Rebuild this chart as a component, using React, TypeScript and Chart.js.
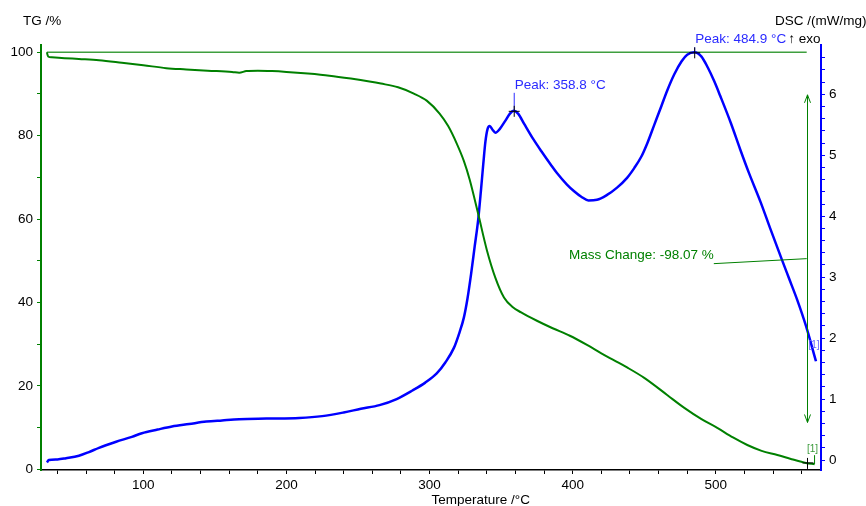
import React, { useEffect, useRef } from 'react';
import { Chart, registerables } from 'chart.js';

Chart.register(...registerables);

// ---- Data ----
const tgTemp = [32.6, 33.5, 36, 45, 55, 69, 85, 100, 116, 130, 145, 162, 167, 172, 180, 190, 200, 215, 230, 245, 258, 266, 278, 289, 298, 307, 313, 319, 324, 328, 334, 340, 346, 352, 358, 364, 375, 386, 398, 410, 420, 429, 438, 450, 466, 478, 490, 501, 512, 522, 532, 543, 553, 563, 569];
const tgMass = [100, 99.0, 98.8, 98.6, 98.4, 98.1, 97.5, 96.9, 96.2, 95.9, 95.6, 95.3, 95.1, 95.5, 95.6, 95.5, 95.3, 94.9, 94.4, 93.7, 93.0, 92.5, 91.6, 90.1, 88.4, 85.3, 82.3, 78.1, 73.9, 69.5, 61.2, 52.6, 45.9, 41.2, 38.9, 37.6, 35.6, 33.8, 32.0, 29.8, 27.8, 26.1, 24.4, 21.9, 17.8, 14.7, 12.0, 9.9, 7.6, 5.8, 4.4, 3.4, 2.4, 1.5, 1.2];

const dscTemp = [32.7, 34, 40, 46, 55, 62, 69, 81, 92, 99, 110, 120, 132, 144, 155, 167, 186, 209, 225, 240, 252, 265, 277, 288, 297, 305, 311, 317, 321, 324, 326.5, 329, 331.5, 334, 336, 337.5, 339, 340.5, 342, 344, 346, 349, 353, 356, 358.8, 362, 366, 372.6, 378, 384.6, 389, 396, 401, 406, 411, 417, 424, 431, 438, 443, 448, 452, 457, 462, 466, 471, 476, 480, 485, 490, 494.4, 499, 503, 510.5, 517, 523, 531.5, 538, 545.5, 551, 557, 563, 570];
const dscValue = [-0.04, 0.0, 0.01, 0.03, 0.07, 0.13, 0.2, 0.3, 0.38, 0.44, 0.5, 0.55, 0.59, 0.63, 0.65, 0.67, 0.68, 0.69, 0.72, 0.78, 0.84, 0.9, 1.0, 1.14, 1.27, 1.42, 1.6, 1.84, 2.1, 2.34, 2.65, 3.05, 3.5, 3.95, 4.45, 4.85, 5.22, 5.43, 5.48, 5.42, 5.37, 5.43, 5.57, 5.68, 5.73, 5.68, 5.52, 5.26, 5.07, 4.85, 4.71, 4.52, 4.41, 4.32, 4.26, 4.27, 4.35, 4.47, 4.63, 4.79, 4.98, 5.19, 5.5, 5.81, 6.06, 6.33, 6.54, 6.65, 6.69, 6.62, 6.44, 6.21, 5.98, 5.53, 5.1, 4.72, 4.22, 3.8, 3.33, 2.99, 2.62, 2.2, 1.62];

const refLineTemp = [32.6, 563.5];
const refLineMass = [100, 100];

const xMajorTicks = [100, 200, 300, 400, 500];
const xMinorTicks = [40, 60, 80, 100, 120, 140, 160, 180, 200, 220, 240, 260, 280, 300, 320, 340, 360, 380, 400, 420, 440, 460, 480, 500, 520, 540, 560];
const tgMajorTicks = [0, 20, 40, 60, 80, 100];
const tgMinorTicks = [0, 10, 20, 30, 40, 50, 60, 70, 80, 90, 100];
const dscMajorTicks = [0, 1, 2, 3, 4, 5, 6];
const dscMinorStep = 0.2;
const dscMinorMax = 6.6;

const peakTemps = [358.8, 484.9];
const peakValues = [5.73, 6.69];
const peakLabels = ['Peak: 358.8 °C', 'Peak: 484.9 °C'];

const massChangeLabel = 'Mass Change: -98.07 %';
const massChangeTemp = 563.5;
const massChangeRange = [89.8, 11.2];
const massLeaderTemp = [498.6, 563.5];
const massLeaderMass = [49.3, 50.5];

const tgTitle = 'TG /%';
const dscTitle = 'DSC /(mW/mg)';
const xTitle = 'Temperature /°C';
const exoLabel = '↑ exo';
const segLabel = '[1]';

const FONT_FAMILY = '"Liberation Sans", Arial, sans-serif';
const GREEN = '#008000';
const BLUE = '#0000ff';
const BLUE_TEXT = '#2b2bff';

const dscMinorTicks: number[] = [];
for (let i = 0; i * dscMinorStep <= dscMinorMax + 1e-9; i++) dscMinorTicks.push(Math.round(i * dscMinorStep * 10) / 10);

const annotationPlugin = {
  id: 'tgaAnnotations',
  afterDatasetsDraw(chart: any) {
    const { ctx, chartArea, scales } = chart;
    const x = scales.x, y = scales.y, y1 = scales.y1;
    ctx.save();
    ctx.font = `13.5px ${FONT_FAMILY}`;
    ctx.textBaseline = 'middle';

    // peaks
    const peakRise = [26, 13];
    peakTemps.forEach((t, i) => {
      const px = x.getPixelForValue(t);
      const py = y1.getPixelForValue(peakValues[i]);
      const rise = peakRise[i];
      ctx.strokeStyle = BLUE_TEXT;
      ctx.lineWidth = 1;
      ctx.beginPath();
      ctx.moveTo(px + 0.5, py - rise + 8);
      ctx.lineTo(px + 0.5, py);
      ctx.stroke();
      ctx.fillStyle = BLUE_TEXT;
      ctx.textAlign = 'left';
      ctx.fillText(peakLabels[i], px + 1, py - rise);
      if (i === peakTemps.length - 1) {
        const w = ctx.measureText(peakLabels[i]).width;
        ctx.fillStyle = '#000';
        ctx.fillText(exoLabel, px + 1 + w + 2, py - rise);
      }
      ctx.strokeStyle = '#000';
      ctx.beginPath();
      ctx.moveTo(px - 5, py + 0.5);
      ctx.lineTo(px + 6, py + 0.5);
      ctx.moveTo(px + 0.5, py - 5);
      ctx.lineTo(px + 0.5, py + 6);
      ctx.stroke();
    });

    // mass change arrow
    const vx = Math.round(x.getPixelForValue(massChangeTemp)) + 0.5;
    const ty = y.getPixelForValue(massChangeRange[0]);
    const by = y.getPixelForValue(massChangeRange[1]);
    ctx.strokeStyle = GREEN;
    ctx.lineWidth = 1;
    ctx.beginPath();
    ctx.moveTo(vx, ty);
    ctx.lineTo(vx, by);
    ctx.moveTo(vx - 3, ty + 8);
    ctx.lineTo(vx, ty);
    ctx.lineTo(vx + 3, ty + 8);
    ctx.moveTo(vx - 3, by - 8);
    ctx.lineTo(vx, by);
    ctx.lineTo(vx + 3, by - 8);
    ctx.stroke();
    const lx0 = x.getPixelForValue(massLeaderTemp[0]);
    const ly0 = y.getPixelForValue(massLeaderMass[0]);
    const lx1 = x.getPixelForValue(massLeaderTemp[1]);
    const ly1 = y.getPixelForValue(massLeaderMass[1]);
    ctx.beginPath();
    ctx.moveTo(lx0, ly0);
    ctx.lineTo(lx1, ly1);
    ctx.stroke();
    ctx.fillStyle = GREEN;
    ctx.textAlign = 'right';
    ctx.fillText(massChangeLabel, lx0, ly0 - 8);

    // TG end marker and segment labels
    const tgEndX = x.getPixelForValue(tgTemp[tgTemp.length - 1]);
    const tgEndY = y.getPixelForValue(tgMass[tgMass.length - 1]);
    const tgMarkX = vx;
    const tgMarkY = y.getPixelForValue(tgMass[tgMass.length - 2]);
    ctx.strokeStyle = '#000';
    ctx.beginPath();
    ctx.moveTo(tgMarkX - 5, tgMarkY);
    ctx.lineTo(tgMarkX + 6, tgMarkY);
    ctx.moveTo(tgMarkX, tgMarkY - 5);
    ctx.lineTo(tgMarkX, tgMarkY + 6);
    ctx.stroke();
    ctx.strokeStyle = GREEN;
    ctx.beginPath();
    ctx.moveTo(tgEndX, tgEndY);
    ctx.lineTo(tgEndX, tgEndY - 9);
    ctx.stroke();

    ctx.font = `10px ${FONT_FAMILY}`;
    ctx.textAlign = 'center';
    ctx.fillStyle = '#3a9a3a';
    ctx.fillText(segLabel, tgEndX - 2, tgEndY - 15);
    const dEndX = x.getPixelForValue(dscTemp[dscTemp.length - 1]);
    const dEndY = y1.getPixelForValue(dscValue[dscValue.length - 1]);
    ctx.fillStyle = '#6060ff';
    ctx.fillText(segLabel, dEndX - 2, dEndY - 16);

    // axis titles
    ctx.font = `13.5px ${FONT_FAMILY}`;
    ctx.fillStyle = '#000';
    ctx.textAlign = 'left';
    ctx.fillText(tgTitle, chartArea.left - 18, chartArea.top - 24);
    ctx.fillText(dscTitle, chartArea.right - 46, chartArea.top - 24);
    ctx.fillText(xTitle, x.getPixelForValue(300) + 2, chartArea.bottom + 30);
    ctx.restore();
  },
};

const tickFont = { family: FONT_FAMILY, size: 13.5 };

export default function App() {
  const canvasRef = useRef<HTMLCanvasElement | null>(null);

  useEffect(() => {
    if (!canvasRef.current) return;
    const chart = new Chart(canvasRef.current, {
      type: 'line',
      data: {
        datasets: [
          {
            label: 'TG',
            data: tgTemp.map((t, i) => ({ x: t, y: tgMass[i] })),
            yAxisID: 'y',
            borderColor: GREEN,
            borderWidth: 2,
            pointRadius: 0,
            cubicInterpolationMode: 'monotone',
            fill: false,
          },
          {
            label: 'DSC',
            data: dscTemp.map((t, i) => ({ x: t, y: dscValue[i] })),
            yAxisID: 'y1',
            borderColor: BLUE,
            borderWidth: 2.5,
            pointRadius: 0,
            cubicInterpolationMode: 'monotone',
            fill: false,
          },
          {
            label: 'TG 100 %',
            data: refLineTemp.map((t, i) => ({ x: t, y: refLineMass[i] })),
            yAxisID: 'y',
            borderColor: '#3f9f3f',
            borderWidth: 1.5,
            pointRadius: 0,
            fill: false,
          },
        ],
      },
      options: {
        responsive: false,
        animation: false,
        devicePixelRatio: 1,
        layout: { padding: { top: 45, left: 0, right: 0, bottom: 0 } },
        plugins: { legend: { display: false }, tooltip: { enabled: false } },
        scales: {
          x: {
            type: 'linear',
            min: 28.5,
            max: 573.5,
            afterBuildTicks: (s: any) => { s.ticks = xMinorTicks.map((v) => ({ value: v })); },
            afterFit: (s: any) => { s.height = 36; },
            ticks: {
              autoSkip: false,
              maxRotation: 0,
              color: '#000',
              font: tickFont,
              padding: 3,
              callback: (v: any) => (xMajorTicks.includes(Number(v)) ? String(v) : ''),
            },
            grid: { drawOnChartArea: false, color: '#000', tickLength: 4 },
            border: { color: '#000', width: 1.5 },
          },
          y: {
            type: 'linear',
            position: 'left',
            min: -0.2,
            max: 101.75,
            afterBuildTicks: (s: any) => { s.ticks = tgMinorTicks.map((v) => ({ value: v })); },
            afterFit: (s: any) => { s.width = 41; },
            ticks: {
              autoSkip: false,
              color: '#000',
              font: tickFont,
              padding: 4,
              callback: (v: any) => (tgMajorTicks.includes(Number(v)) ? String(v) : ''),
            },
            grid: { drawOnChartArea: false, color: GREEN, tickLength: 4 },
            border: { color: GREEN, width: 2 },
          },
          y1: {
            type: 'linear',
            position: 'right',
            min: -0.164,
            max: 6.81,
            afterBuildTicks: (s: any) => { s.ticks = dscMinorTicks.map((v) => ({ value: v })); },
            afterFit: (s: any) => { s.width = 45; },
            ticks: {
              autoSkip: false,
              color: '#000',
              font: tickFont,
              padding: 4,
              callback: (v: any) => (dscMajorTicks.includes(Number(v)) ? String(v) : ''),
            },
            grid: { drawOnChartArea: false, color: BLUE, tickLength: 4 },
            border: { color: BLUE, width: 2 },
          },
        },
      },
      plugins: [annotationPlugin],
    } as any);
    return () => chart.destroy();
  }, []);

  return (
    <div style={{ position: 'absolute', left: 0, top: 0, width: 866, height: 506, background: '#fff' }}>
      <canvas ref={canvasRef} width={866} height={506} style={{ display: 'block' }} />
    </div>
  );
}
